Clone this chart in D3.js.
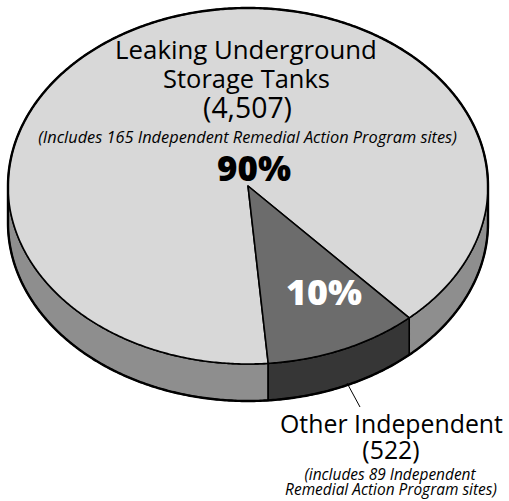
<!DOCTYPE html>
<html>
<head>
<meta charset="utf-8">
<script src="https://cdn.jsdelivr.net/npm/d3@7"></script>
<style>
html,body{margin:0;padding:0;background:#fff;}
svg{display:block;}
text{font-family:"Open Sans","Noto Sans",sans-serif;}
</style>
</head>
<body>
<svg id="chart" width="509" height="501"></svg>
<script>
// ---- data ----
const categories = ["Leaking Underground Storage Tanks", "Other Independent"];
const values = [4507, 522];
const percentLabels = ["90%", "10%"];
const countLabels = ["(4,507)", "(522)"];
const noteLabels = [
  ["(Includes 165 Independent Remedial Action Program sites)"],
  ["(includes 89 Independent", "Remedial Action Program sites)"]
];
const topColors = ["#d8d8d8", "#6c6c6c"];
const sideColors = ["#8e8e8e", "#363636"];

// ---- geometry ----
const cx = 248, cy = 186, rx = 240, ry = 178, depth = 37;
const deg = Math.PI / 180;
const start = (137.8 - 360 * values[0] / d3.sum(values)) * deg;

const svg = d3.select("#chart");
const pie = d3.pie().sort(null).startAngle(start).endAngle(start + 2 * Math.PI);
const arcs = pie(values);

function pt(a, dy) { return [cx + rx * Math.sin(a), cy - ry * Math.cos(a) + (dy || 0)]; }
function arcPts(a0, a1, dy) {
  const n = Math.max(2, Math.ceil(Math.abs(a1 - a0) / (0.5 * deg)));
  const pts = [];
  for (let i = 0; i <= n; i++) pts.push(pt(a0 + (a1 - a0) * i / n, dy));
  return pts;
}
const line = d3.line();

// side walls
const walls = [];
arcs.forEach((d, i) => {
  for (let k = -1; k <= 1; k++) {
    const lo = Math.max(d.startAngle, Math.PI / 2 + 2 * Math.PI * k);
    const hi = Math.min(d.endAngle, 3 * Math.PI / 2 + 2 * Math.PI * k);
    if (hi > lo) walls.push({ i, lo, hi });
  }
});
svg.append("g").selectAll("path").data(walls).join("path")
  .attr("d", w => line(arcPts(w.lo, w.hi, 0).concat(arcPts(w.hi, w.lo, depth))) + "Z")
  .attr("fill", w => sideColors[w.i])
  .attr("stroke", "#000").attr("stroke-width", 1.6).attr("stroke-linejoin", "round");

// top faces
svg.append("g").selectAll("path").data(arcs).join("path")
  .attr("d", d => line([[cx, cy]].concat(arcPts(d.startAngle, d.endAngle, 0))) + "Z")
  .attr("fill", (d, i) => topColors[i])
  .attr("stroke", "#000").attr("stroke-width", 1.6).attr("stroke-linejoin", "round");

// outer silhouette
const sil = arcPts(-Math.PI / 2, Math.PI / 2, 0).concat(arcPts(Math.PI / 2, 3 * Math.PI / 2, depth));
svg.append("path").attr("d", line(sil) + "Z")
  .attr("fill", "none").attr("stroke", "#000").attr("stroke-width", 2.4);

// ---- labels ----
const g = svg.append("g").attr("text-anchor", "middle").attr("fill", "#000");
function label(txt, x, y, size, width, opts) {
  opts = opts || {};
  const t = g.append("text").attr("x", x).attr("y", y).attr("font-size", size)
    .attr("font-style", opts.italic ? "italic" : null)
    .attr("font-weight", opts.bold ? 800 : null)
    .attr("fill", opts.fill || "#000").text(txt);
  const w = t.node().getComputedTextLength();
  if (w > 0 && width) t.attr("font-size", size * width / w);
  return t;
}
const nameLines = ["Leaking Underground", "Storage Tanks"];
label(nameLines[0], 246, 59, 25, 262);
label(nameLines[1], 246.5, 88, 25, 167);
label(countLabels[0], 247.5, 118, 25, 89);
label(noteLabels[0][0], 247.5, 143, 16, 419, { italic: true });
label(percentLabels[0], 254, 181, 34, 74, { bold: true });
label(percentLabels[1], 324, 305, 34, 76, { bold: true, fill: "#fff" });

// leader line
svg.append("line").attr("x1", 347).attr("y1", 383).attr("x2", 360).attr("y2", 407)
  .attr("stroke", "#000").attr("stroke-width", 1);

const oth = label(categories[1], 391.5, 433, 24, 223);
label(countLabels[1], 391, 459, +oth.attr("font-size"), null);
const n2 = label(noteLabels[1][1], 391, 495, 13, 212, { italic: true });
label(noteLabels[1][0], 390, 479.5, +n2.attr("font-size"), null, { italic: true });
</script>
</body>
</html>
